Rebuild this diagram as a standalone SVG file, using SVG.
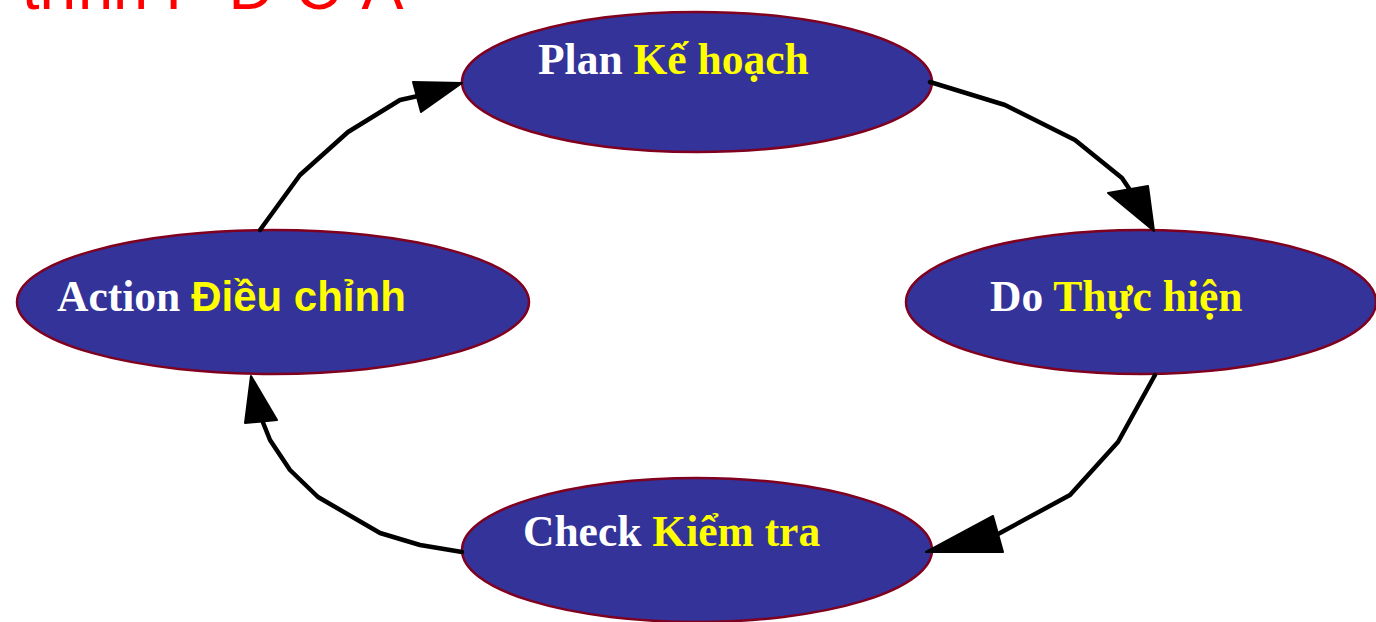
<svg xmlns="http://www.w3.org/2000/svg" width="1376" height="622" viewBox="0 0 1376 622">
<style>
.node{fill:#333399;stroke:#800020;stroke-width:2.5}
.lbl{font-family:"Liberation Serif","Times New Roman",serif;font-weight:bold;font-size:43.5px}
.w{fill:#ffffff}
.y{fill:#ffff00}
.sans{font-family:"Liberation Sans",Arial,sans-serif;font-size:42px}
.conn{fill:none;stroke:#000;stroke-width:4.5;stroke-linejoin:round;stroke-linecap:round}
.head{fill:#000;stroke:#000;stroke-width:2;stroke-linejoin:round}
.title{font-family:"Liberation Sans",Arial,sans-serif;font-size:63px;fill:#ff0000}
</style>
<rect width="1376" height="622" fill="#ffffff"/>
<text class="title" x="22" y="9">trình P-D-C-A</text>
<g id="plan">
<ellipse class="node" cx="697" cy="82" rx="235" ry="70"/>
<text class="lbl" x="538" y="74"><tspan class="w">Plan </tspan><tspan class="y">Kế hoạch</tspan></text>
</g>
<g id="do">
<ellipse class="node" cx="1141" cy="302" rx="235" ry="72"/>
<text class="lbl" x="990" y="311"><tspan class="w">Do </tspan><tspan class="y">Thực hiện</tspan></text>
</g>
<g id="check">
<ellipse class="node" cx="697" cy="550" rx="235" ry="72"/>
<text class="lbl" x="523" y="546"><tspan class="w">Check </tspan><tspan class="y">Kiểm tra</tspan></text>
</g>
<g id="action">
<ellipse class="node" cx="273" cy="302" rx="256" ry="72"/>
<text class="lbl" x="57" y="311"><tspan class="w">Action </tspan><tspan class="y sans">Điều chỉnh</tspan></text>
</g>
<g id="connectors">
<path class="conn" d="M930,82 L1005,105 L1075,140 L1122,178 L1130,190"/>
<polygon class="head" points="1108,193 1148,186 1154,231"/>
<path class="conn" d="M1155,375 L1118,442 L1070,495 L1000,533 L996,535"/>
<polygon class="head" points="993,516 1003,552 926,552"/>
<path class="conn" d="M462,552 L420,545 L380,533 L318,497 L290,470 L270,440 L262,420"/>
<polygon class="head" points="245,423 277,420 251,376"/>
<path class="conn" d="M260,230 L300,175 L348,132 L400,100 L418,96"/>
<polygon class="head" points="413,82 421,112 462,83"/>
</g>
</svg>
